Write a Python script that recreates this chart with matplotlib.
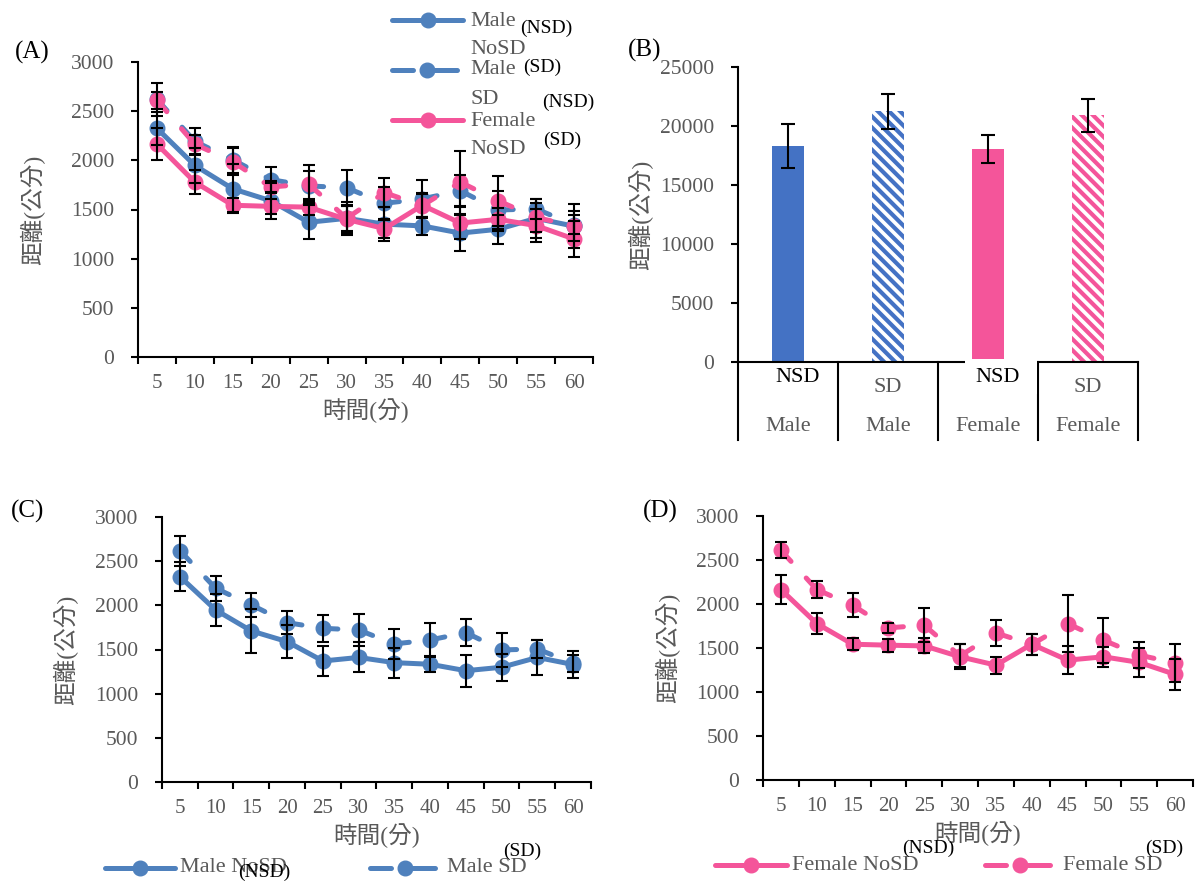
import numpy as np
import matplotlib
matplotlib.use('Agg')
import matplotlib.pyplot as plt
from matplotlib.lines import Line2D
from matplotlib.patches import Rectangle

plt.rcParams['font.family'] = ['Liberation Serif', 'Noto Sans CJK TC']
plt.rcParams['hatch.linewidth'] = 3.0

# time points (min)
times = [5, 10, 15, 20, 25, 30, 35, 40, 45, 50, 55, 60]

male_nosd = [2325, 1948, 1710, 1589, 1370, 1410, 1351, 1333, 1260, 1299, 1410, 1330]
male_nosd_se = [165, 180, 250, 185, 175, 170, 170, 90, 180, 150, 200, 150]
male_sd = [2620, 2193, 2005, 1804, 1740, 1721, 1563, 1608, 1691, 1495, 1506, 1344]
male_sd_se = [170, 140, 135, 130, 150, 180, 165, 195, 155, 190, 100, 95]

female_nosd = [2164, 1778, 1543, 1532, 1524, 1400, 1305, 1543, 1362, 1400, 1336, 1200]
female_nosd_se = [160, 120, 70, 75, 85, 140, 95, 120, 160, 115, 165, 180]
female_sd = [2610, 2164, 1986, 1729, 1759, 1410, 1671, 1540, 1778, 1589, 1419, 1331]
female_sd_se = [90, 95, 135, 60, 190, 130, 145, 120, 320, 255, 150, 220]

# total distance (panel B)
bar_sex = ['Male', 'Male', 'Female', 'Female']
bar_cond = ['NSD', 'SD', 'NSD', 'SD']
bar_mean = [18290, 21250, 18040, 20910]
bar_se = [1870, 1500, 1200, 1420]

BLUE = '#4f81bd'
BLUE_BAR = '#4472c4'
PINK = '#f4559a'
GRAY = '#595959'
DASH = (0, (3, 4.5))
W, H = 1196, 881


def fx(px):
  return px / W


def fy(py):
  return 1 - py / H


def style_time_axes(ax, label_x):
  x = np.arange(1, len(times) + 1)
  ax.set_xlim(0.5, len(times) + 0.5)
  ax.set_ylim(0, 3000)
  ax.set_yticks(np.arange(0, 3001, 500))
  ax.set_xticks(np.arange(0.5, len(times) + 1, 1))
  ax.set_xticklabels([])
  ax.set_xticks(x, minor=True)
  ax.set_xticklabels([str(t) for t in times], minor=True)
  for s in ['top', 'right']:
    ax.spines[s].set_visible(False)
  for s in ['left', 'bottom']:
    ax.spines[s].set_linewidth(1.5)
  ax.tick_params(axis='both', which='major', direction='out', length=5, width=1.5)
  ax.tick_params(axis='y', labelsize=15.5, labelcolor=GRAY, pad=12)
  ax.tick_params(axis='x', which='minor', length=0, labelsize=15, labelcolor=GRAY, pad=12)
  ax.set_xlabel('時間(分)', fontsize=17, color=GRAY, labelpad=4)
  ax.set_ylabel('距離(公分)', fontsize=17, color=GRAY)
  ax.yaxis.set_label_coords(label_x, 0.5)


def draw_series(ax, y, se, color, dashed, z):
  x = np.arange(1, len(times) + 1)
  if dashed:
    # dash pattern restarts at every point, like the spreadsheet chart
    for i in range(len(x) - 1):
      ax.plot(x[i:i + 2], y[i:i + 2], color=color, lw=3.6, ls=DASH,
              dash_capstyle='round', zorder=z)
    ax.plot(x, y, color=color, lw=0, marker='o', ms=10.5, zorder=z)
  else:
    ax.plot(x, y, color=color, lw=3.6, marker='o', ms=10.5,
            solid_capstyle='round', solid_joinstyle='round', zorder=z)
  ax.errorbar(x, y, yerr=se, fmt='none', ecolor='black', elinewidth=1.5,
              capsize=4.5, capthick=1.5, zorder=10)


def legend_handle(fig, x0, x1, y, color, dashed):
  xm = (x0 + x1) / 2
  kw = dict(transform=fig.transFigure, color=color, lw=3.6, solid_capstyle='round')
  if dashed:
    fig.add_artist(Line2D([fx(x0), fx(x0 + 21)], [fy(y)] * 2, **kw))
    fig.add_artist(Line2D([fx(xm + 2), fx(x1)], [fy(y)] * 2, **kw))
    fig.add_artist(Line2D([fx(xm + 2)], [fy(y)], transform=fig.transFigure, color=color,
                          marker='o', ms=10.5))
  else:
    fig.add_artist(Line2D([fx(x0), fx(xm), fx(x1)], [fy(y)] * 3, marker='o', ms=10.5,
                          markevery=[1], **kw))


def legend_text(fig, x, y, s, color=GRAY, size=16):
  fig.text(fx(x), fy(y), s, color=color, fontsize=size, ha='left', va='center')


fig = plt.figure(figsize=(W / 100, H / 100), dpi=100)

# (A) all four groups
axA = fig.add_axes([fx(138), fy(357), 455 / W, 295 / H])
draw_series(axA, male_nosd, male_nosd_se, BLUE, False, 3)
draw_series(axA, male_sd, male_sd_se, BLUE, True, 3)
draw_series(axA, female_nosd, female_nosd_se, PINK, False, 4)
draw_series(axA, female_sd, female_sd_se, PINK, True, 4)
style_time_axes(axA, -0.204)

legend_handle(fig, 392, 463, 20, BLUE, False)
legend_text(fig, 470, 21, 'Male')
legend_text(fig, 470, 50, 'NoSD')
legend_handle(fig, 392, 457, 70, BLUE, True)
legend_text(fig, 470, 70, 'Male')
legend_text(fig, 470, 100, 'SD')
legend_handle(fig, 392, 463, 120, PINK, False)
legend_text(fig, 470, 122, 'Female')
legend_text(fig, 470, 149, 'NoSD')
legend_text(fig, 520, 28, '(NSD)', 'black', 14)
legend_text(fig, 523, 67, '(SD)', 'black', 14)
legend_text(fig, 542, 102, '(NSD)', 'black', 14)
legend_text(fig, 543, 140, '(SD)', 'black', 14)

# (B) total distance
axB = fig.add_axes([fx(738), fy(362), 400 / W, 295 / H])
xb = np.arange(len(bar_mean))
for i in xb:
  col = BLUE_BAR if bar_sex[i] == 'Male' else PINK
  if bar_cond[i] == 'SD':
    axB.bar(i, bar_mean[i], width=0.32, color='white', edgecolor=col, lw=0,
            hatch='\\\\\\', zorder=2)
  else:
    axB.bar(i, bar_mean[i], width=0.32, color=col, lw=0, zorder=2)
axB.errorbar(xb, bar_mean, yerr=bar_se, fmt='none', ecolor='black', elinewidth=1.5,
             capsize=5, capthick=1.5, zorder=5)
axB.set_xlim(-0.5, 3.5)
axB.set_ylim(0, 25000)
axB.set_yticks(np.arange(0, 25001, 5000))
axB.set_xticks([])
for s in ['top', 'right']:
  axB.spines[s].set_visible(False)
for s in ['left', 'bottom']:
  axB.spines[s].set_linewidth(1.5)
axB.tick_params(axis='y', direction='out', length=5, width=1.5, labelsize=15.5,
                labelcolor=GRAY, pad=12)
axB.set_ylabel('距離(公分)', fontsize=17, color=GRAY)
axB.yaxis.set_label_coords(-0.2125, 0.5)
tr = axB.get_xaxis_transform()
for b in np.arange(-0.5, 4, 1):
  axB.plot([b, b], [0, -0.265], transform=tr, color='black', lw=1.5, clip_on=False)
axB.add_patch(Rectangle((1.77, -0.11), 0.72, 0.12, transform=tr, facecolor='white',
                        edgecolor='none', clip_on=False, zorder=6))
for i in xb:
  if bar_cond[i] == 'SD':
    axB.text(i, -0.085, bar_cond[i], transform=tr, ha='center', va='center',
             fontsize=16, color=GRAY)
  else:
    axB.text(i + 0.1, -0.054, bar_cond[i], transform=tr, ha='center', va='center',
             fontsize=16, color='black', zorder=7,
             bbox=dict(facecolor='white', edgecolor='none', pad=1))
  axB.text(i, -0.22, bar_sex[i], transform=tr, ha='center', va='center',
           fontsize=16, color=GRAY)

# (C) male
axC = fig.add_axes([fx(162), fy(782), 429 / W, 265 / H])
draw_series(axC, male_nosd, male_nosd_se, BLUE, False, 3)
draw_series(axC, male_sd, male_sd_se, BLUE, True, 3)
style_time_axes(axC, -0.196)
legend_handle(fig, 105, 175, 868, BLUE, False)
legend_text(fig, 180, 868, 'Male NoSD')
legend_handle(fig, 370, 435, 868, BLUE, True)
legend_text(fig, 447, 868, 'Male SD')
legend_text(fig, 238, 872, '(NSD)', 'black', 14)
legend_text(fig, 503, 851, '(SD)', 'black', 14)

# (D) female
axD = fig.add_axes([fx(763), fy(780), 430 / W, 264 / H])
draw_series(axD, female_nosd, female_nosd_se, PINK, False, 3)
draw_series(axD, female_sd, female_sd_se, PINK, True, 3)
style_time_axes(axD, -0.193)
legend_handle(fig, 715, 787, 865, PINK, False)
legend_text(fig, 792, 865, 'Female NoSD')
legend_handle(fig, 985, 1050, 865, PINK, True)
legend_text(fig, 1063, 865, 'Female SD')
legend_text(fig, 902, 848, '(NSD)', 'black', 14)
legend_text(fig, 1145, 848, '(SD)', 'black', 14)

# panel letters
for lab, px, py in [('(A)', 32, 52), ('(B)', 645, 50), ('(C)', 28, 511), ('(D)', 660, 511)]:
  fig.text(fx(px), fy(py), lab, fontsize=18, color='black', ha='center', va='center')

fig.savefig('out.png', dpi=100)
